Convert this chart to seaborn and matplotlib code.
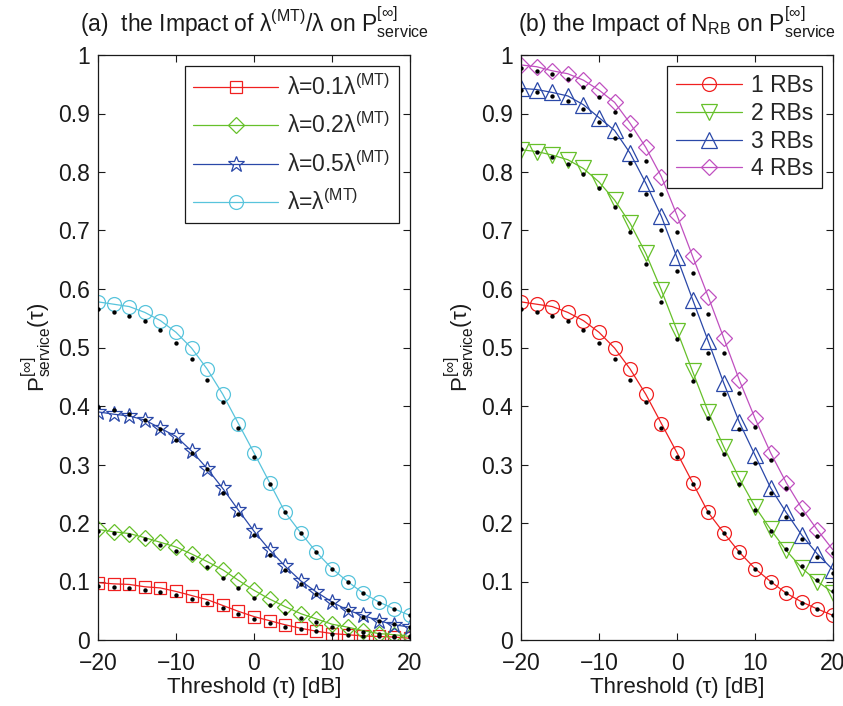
import matplotlib
matplotlib.use('Agg')
import matplotlib.pyplot as plt
import seaborn as sns
import numpy as np

sns.set_style('ticks')
plt.rcParams['font.family'] = ['Liberation Sans', 'DejaVu Sans']
plt.rcParams['mathtext.default'] = 'regular'

# threshold axis (dB)
tau = list(range(-20, 21, 2))

# panel (a): lambda / lambda(MT) ratios -- simulation (markers) and analysis (dots)
sim_01 = [0.098, 0.096, 0.095, 0.091, 0.089, 0.083, 0.076, 0.069, 0.059, 0.049, 0.040,
          0.033, 0.026, 0.020, 0.015, 0.011, 0.009, 0.007, 0.006, 0.005, 0.003]
ana_01 = [0.093, 0.091, 0.089, 0.086, 0.082, 0.077, 0.070, 0.063, 0.054, 0.045, 0.036,
          0.029, 0.023, 0.018, 0.015, 0.010, 0.009, 0.007, 0.006, 0.005, 0.005]
sim_02 = [0.189, 0.185, 0.182, 0.175, 0.167, 0.159, 0.147, 0.134, 0.120, 0.102, 0.085,
          0.070, 0.057, 0.045, 0.036, 0.027, 0.022, 0.016, 0.011, 0.009, 0.006]
ana_02 = [0.186, 0.183, 0.179, 0.172, 0.163, 0.152, 0.140, 0.125, 0.106, 0.089, 0.072,
          0.059, 0.046, 0.038, 0.030, 0.023, 0.019, 0.013, 0.010, 0.007, 0.006]
sim_05 = [0.390, 0.386, 0.383, 0.376, 0.362, 0.348, 0.323, 0.293, 0.259, 0.222, 0.186,
          0.154, 0.126, 0.101, 0.082, 0.065, 0.051, 0.042, 0.033, 0.026, 0.022]
ana_05 = [0.398, 0.393, 0.386, 0.376, 0.361, 0.342, 0.320, 0.292, 0.251, 0.215, 0.180,
          0.146, 0.120, 0.096, 0.079, 0.063, 0.051, 0.039, 0.032, 0.027, 0.022]
sim_10 = [0.578, 0.574, 0.570, 0.560, 0.546, 0.526, 0.499, 0.463, 0.420, 0.370, 0.320,
          0.269, 0.218, 0.183, 0.150, 0.122, 0.100, 0.080, 0.065, 0.053, 0.042]
ana_10 = [0.565, 0.561, 0.554, 0.545, 0.530, 0.508, 0.480, 0.444, 0.406, 0.362, 0.313,
          0.266, 0.218, 0.183, 0.151, 0.122, 0.100, 0.080, 0.063, 0.053, 0.042]

# panel (b): number of RBs
sim_rb2 = [0.838, 0.835, 0.829, 0.821, 0.806, 0.783, 0.752, 0.712, 0.661, 0.598, 0.529,
           0.459, 0.390, 0.330, 0.276, 0.228, 0.189, 0.153, 0.123, 0.100, 0.081]
ana_rb2 = [0.840, 0.835, 0.825, 0.814, 0.797, 0.773, 0.740, 0.697, 0.643, 0.577, 0.514,
           0.443, 0.379, 0.318, 0.266, 0.223, 0.187, 0.155, 0.127, 0.103, 0.084]
sim_rb3 = [0.943, 0.941, 0.936, 0.930, 0.915, 0.893, 0.871, 0.832, 0.781, 0.724, 0.654,
           0.582, 0.511, 0.439, 0.372, 0.316, 0.260, 0.218, 0.179, 0.147, 0.120]
ana_rb3 = [0.941, 0.937, 0.930, 0.921, 0.907, 0.886, 0.858, 0.816, 0.762, 0.701, 0.631,
           0.558, 0.490, 0.421, 0.361, 0.302, 0.251, 0.211, 0.172, 0.142, 0.115]
sim_rb4 = [0.983, 0.980, 0.973, 0.968, 0.957, 0.940, 0.919, 0.883, 0.842, 0.792, 0.726,
           0.656, 0.587, 0.516, 0.444, 0.379, 0.320, 0.269, 0.225, 0.188, 0.154]
ana_rb4 = [0.977, 0.973, 0.968, 0.959, 0.945, 0.928, 0.903, 0.864, 0.818, 0.762, 0.698,
           0.627, 0.558, 0.490, 0.422, 0.364, 0.308, 0.259, 0.215, 0.178, 0.148]

labels_a = [r'λ=0.1λ$^{(MT)}$', r'λ=0.2λ$^{(MT)}$', r'λ=0.5λ$^{(MT)}$', r'λ=λ$^{(MT)}$']
labels_b = ['1 RBs', '2 RBs', '3 RBs', '4 RBs']

red, green, blue, cyan, magenta = '#f02020', '#66c02a', '#2a48a8', '#58c4dc', '#c050c0'

series_a = [(sim_01, ana_01, red, 's', 8.5), (sim_02, ana_02, green, 'D', 8.5),
            (sim_05, ana_05, blue, '*', 12), (sim_10, ana_10, cyan, 'o', 10)]
series_b = [(sim_10, ana_10, red, 'o', 10), (sim_rb2, ana_rb2, green, 'v', 11),
            (sim_rb3, ana_rb3, blue, '^', 11), (sim_rb4, ana_rb4, magenta, 'D', 8.5)]

fig = plt.figure(figsize=(8.43, 7.06), dpi=100)
ax_a = fig.add_axes([98 / 843, 66 / 706, 312 / 843, 585 / 706])
ax_b = fig.add_axes([521 / 843, 66 / 706, 312 / 843, 585 / 706])

ylabel = r'P$^{[∞]}_{service}$(τ)'
titles = [r'(a)  the Impact of λ$^{(MT)}$/λ on P$^{[∞]}_{service}$',
          r'(b) the Impact of N$_{RB}$ on P$^{[∞]}_{service}$']

ink = '#1a1a1a'

# legend spacing differs: the left one has superscripts in every entry
panels = [(ax_a, series_a, labels_a, titles[0], 0.55, 3.7),
          (ax_b, series_b, labels_b, titles[1], 0.2, 2.9)]

for ax, series, labels, title, lspace, hlen in panels:
    handles = []
    for (sim, ana, col, mk, ms), lab in zip(series, labels):
        sns.lineplot(x=tau, y=sim, ax=ax, color=col, lw=0.9, marker=mk, markersize=ms,
                     markerfacecolor='none', markeredgecolor=col, markeredgewidth=0.9,
                     label=lab, legend=False, zorder=2)
        handles.append(ax.lines[-1])
        sns.scatterplot(x=tau, y=ana, ax=ax, color='black', s=10, linewidth=0,
                        legend=False, zorder=3)

    ax.set_xlim(-20, 20)
    ax.set_ylim(0, 1)
    ax.set_xticks([-20, -10, 0, 10, 20])
    ax.set_xticklabels(['\u221220', '\u221210', '0', '10', '20'])
    ax.set_yticks(np.arange(0, 1.01, 0.1))
    ax.set_yticklabels(['0'] + [f'{v:.1f}' for v in np.arange(0.1, 0.95, 0.1)] + ['1'])
    ax.tick_params(direction='in', length=5, width=0.8, top=True, right=True,
                   labelsize=16.5, colors=ink)
    ax.tick_params(axis='x', pad=9)
    ax.tick_params(axis='y', pad=6)
    for s in ax.spines.values():
        s.set_visible(True)
        s.set_linewidth(0.9)
        s.set_color(ink)
    ax.set_xlabel('Threshold (τ) [dB]', fontsize=16, color=ink, labelpad=1)
    ax.set_ylabel(ylabel, fontsize=16, color=ink, labelpad=3)
    ax.set_title(title, fontsize=16.5, color=ink, pad=17)

    leg = ax.legend(handles=handles, labels=labels, loc='upper right', fontsize=16.5,
                    numpoints=1, handlelength=hlen, fancybox=False, framealpha=1,
                    edgecolor=ink, borderaxespad=0.5, labelspacing=lspace,
                    handletextpad=0.4, borderpad=0.35)
    leg.get_frame().set_linewidth(0.9)

fig.savefig('out.png', dpi=100)
